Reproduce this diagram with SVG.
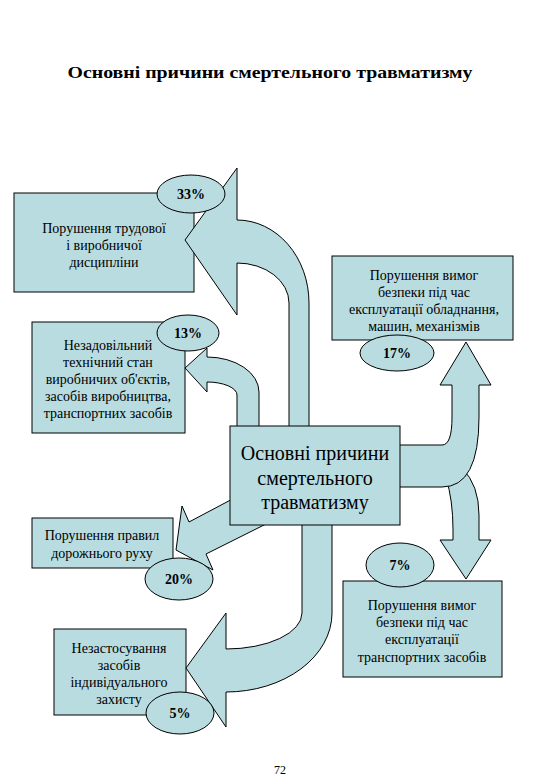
<svg xmlns="http://www.w3.org/2000/svg" width="540" height="780" viewBox="0 0 540 780">
<style>
.bx{fill:#b8dce0;stroke:#000;stroke-width:1}
.ar{fill:#b8dce0;stroke:#000;stroke-width:1;stroke-linejoin:miter}
.el{fill:#b8dce0;stroke:#000;stroke-width:1}
text{font-family:'Liberation Serif','DejaVu Serif',serif;fill:#000;text-anchor:middle}
.t{font-size:14px}
.p{font-size:14px;font-weight:bold}
.c{font-size:20px}
.ttl{font-size:17px;font-weight:bold}
.pg{font-size:12px}
</style>
<rect width="540" height="780" fill="#fff"/>
<text class="ttl" x="270" y="78" textLength="405" lengthAdjust="spacingAndGlyphs">Основні причини смертельного травматизму</text>

<g id="box-discipline"><rect class="bx" x="14" y="193" width="180" height="99"/></g>
<g id="box-technical"><rect class="bx" x="32" y="322" width="153" height="111"/></g>
<g id="box-equipment"><rect class="bx" x="332" y="256" width="181" height="84"/></g>
<g id="box-transport"><rect class="bx" x="343" y="581" width="159" height="96"/></g>
<g id="box-road"><rect class="bx" x="32" y="518" width="141" height="50"/></g>
<g id="box-ppe"><rect class="bx" x="54" y="629" width="132" height="86"/></g>

<g id="connectors">
<path class="ar" d="M289,430 L289,303 A52,40 0 0 0 237,263 L237,315 L185,240 L237,168 L237,220 A72,83 0 0 1 309,303 L309,430 Z"/>
<path class="ar" d="M237,430 L237,395 A30,13 0 0 0 207,382 L207,392 L185,368 L207,348 L207,357 A52,35 0 0 1 259,392 L259,430 Z"/>
<path class="ar" d="M240,495 L189,522 L182,506 L176,550 L213,570 L206,554 L270,522 Z"/>
<path class="ar" d="M302,520 L302,613 A76,36 0 0 1 226,649 L226,613 L186,668 L226,727 L226,692 A106,79 0 0 0 332,613 L332,520 Z"/>
<path class="ar" d="M446,478 Q453,500 453,530 L453,540 L440,540 L466,579 L491,540 L479,540 L479,515 Q479,485 462,468 Z"/>
<path class="ar" d="M396,445 L442,445 Q452,445 452,417 L452,385 L440,385 L466,342 L491,385 L479,385 L479,417 Q479,487 442,487 L396,487 Z"/>
</g>

<g id="center"><rect class="bx" x="230" y="426" width="170" height="99"/>
<text class="c" x="315" y="460">Основні причини</text>
<text class="c" x="315" y="485">смертельного</text>
<text class="c" x="315" y="509">травматизму</text></g>

<g id="text-discipline">
<text class="t" x="104" y="233">Порушення трудової</text>
<text class="t" x="104" y="250">і виробничої</text>
<text class="t" x="104" y="267">дисципліни</text></g>
<g id="text-technical">
<text class="t" x="108" y="350">Незадовільний</text>
<text class="t" x="108" y="367">технічний стан</text>
<text class="t" x="108" y="384">виробничих об'єктів,</text>
<text class="t" x="108" y="401">засобів виробництва,</text>
<text class="t" x="108" y="418">транспортних засобів</text></g>
<g id="text-equipment">
<text class="t" x="424" y="280">Порушення вимог</text>
<text class="t" x="424" y="297">безпеки під час</text>
<text class="t" x="424" y="314">експлуатації обладнання,</text>
<text class="t" x="424" y="331">машин, механізмів</text></g>
<g id="text-transport">
<text class="t" x="422" y="610">Порушення вимог</text>
<text class="t" x="422" y="627">безпеки під час</text>
<text class="t" x="422" y="644">експлуатації</text>
<text class="t" x="422" y="662">транспортних засобів</text></g>
<g id="text-road">
<text class="t" x="102" y="540">Порушення правил</text>
<text class="t" x="102" y="558">дорожнього руху</text></g>
<g id="text-ppe">
<text class="t" x="119" y="653">Незастосування</text>
<text class="t" x="119" y="670">засобів</text>
<text class="t" x="119" y="687">індивідуального</text>
<text class="t" x="119" y="704">захисту</text></g>

<g id="pct-33"><ellipse class="el" cx="191" cy="194" rx="34" ry="19"/><text class="p" x="191" y="199">33%</text></g>
<g id="pct-13"><ellipse class="el" cx="188" cy="333" rx="31" ry="18"/><text class="p" x="188" y="338">13%</text></g>
<g id="pct-17"><ellipse class="el" cx="397" cy="353" rx="37" ry="18"/><text class="p" x="397" y="358">17%</text></g>
<g id="pct-7"><ellipse class="el" cx="400" cy="565" rx="34" ry="22"/><text class="p" x="400" y="570">7%</text></g>
<g id="pct-20"><ellipse class="el" cx="179" cy="579" rx="34" ry="21"/><text class="p" x="179" y="584">20%</text></g>
<g id="pct-5"><ellipse class="el" cx="180" cy="713" rx="34" ry="21"/><text class="p" x="180" y="718">5%</text></g>

<text class="pg" x="280" y="774">72</text>
</svg>
